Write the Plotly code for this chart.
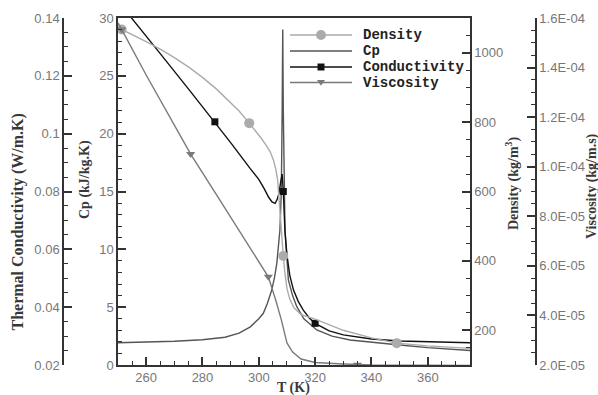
import plotly.graph_objects as go

# Supercritical fluid properties versus temperature
# Density (kg/m^3)
T_density = [250, 251.3, 255, 260, 265, 270, 275, 280, 285, 290, 293, 296.6, 299,
             301, 302.8, 304, 305.2, 306.0, 306.7, 307.2, 307.8, 308.2, 308.7, 309.2,
             310, 311, 312.5, 315, 320, 330, 340, 349, 360, 375]
density = [1072, 1067, 1052, 1032, 1010, 986, 959, 929, 895, 857, 832, 797, 773,
           752, 731, 715, 691, 665, 633, 575, 500, 450, 414, 370,
           320, 290, 265, 245, 232, 200, 178, 163, 155, 148]
density_marks = [251.3, 296.6, 308.7, 349]

# Specific heat Cp (kJ/kg.K)
T_cp = [250, 260, 270, 280, 288, 293, 297, 300, 301.6, 303, 304.6, 305.6, 306.4, 307.5,
        308.0, 308.3, 308.5, 308.7, 309.0, 309.3, 310.5, 312, 313.5, 316, 320.6, 326,
        332.4, 340, 350, 360, 375]
cp = [1.93, 1.98, 2.05, 2.18, 2.4, 2.75, 3.3, 4.0, 4.47, 5.3, 6.48, 7.6, 8.79, 11.67,
      15.0, 22.0, 29.0, 22.0, 15.0, 11.67, 7.35, 6.0, 5.04, 4.0, 3.03, 2.5,
      2.16, 1.95, 1.73, 1.5, 1.25]

# Thermal conductivity (W/m.K)
T_cond = [250, 254.9, 265, 275, 284.4, 290, 296.9, 300, 302, 303.5, 304.7, 305.8, 306.5,
          307.2, 307.8, 308.3, 308.7, 309.3, 310, 311, 312.3, 314, 315.8, 318, 320,
          325, 330, 340, 350, 360, 375]
conductivity = [0.1458, 0.14, 0.1277, 0.1155, 0.1041, 0.0969, 0.088, 0.0842, 0.0808,
                0.0780, 0.0764, 0.0759, 0.0772, 0.0795, 0.0835, 0.086, 0.080, 0.066,
                0.058, 0.051, 0.046, 0.042, 0.039, 0.0362, 0.0344,
                0.0318, 0.0304, 0.029, 0.0283, 0.028, 0.0277]
cond_marks = [284.4, 308.7, 320]

# Viscosity (kg/m.s)
T_visc = [250, 251.3, 260, 270, 275.8, 285, 295, 303.4, 306, 308, 310, 312, 315, 320,
          330, 335, 340, 375]
viscosity = [1.58e-4, 1.554e-4, 1.37e-4, 1.168e-4, 1.051e-4, 8.86e-5, 7.04e-5, 5.56e-5,
             4.62e-5, 3.82e-5, 2.89e-5, 2.52e-5, 2.24e-5, 2.10e-5,
             2.04e-5, 2.01e-5, 2.0e-5, 1.98e-5]
visc_marks = [251.3, 275.8, 303.4, 335]

# Axis ticks
t_ticks = [260, 280, 300, 320, 340, 360]
cp_ticks = [0, 5, 10, 15, 20, 25, 30]
cond_ticks = [0.02, 0.04, 0.06, 0.08, 0.1, 0.12, 0.14]
cond_labels = ["0.02", "0.04", "0.06", "0.08", "0.1", "0.12", "0.14"]
dens_ticks = [200, 400, 600, 800, 1000]
visc_ticks = [2e-5, 4e-5, 6e-5, 8e-5, 1e-4, 1.2e-4, 1.4e-4, 1.6e-4]
visc_labels = ["2.0E-05", "4.0E-05", "6.0E-05", "8.0E-05", "1.0E-04", "1.2E-04",
               "1.4E-04", "1.6E-04"]

W, H = 598, 395
X0, X1, Y0, Y1 = 118, 470, 18, 365
xdom = [X0 / W, X1 / W]
ydom = [1 - Y1 / H, 1 - Y0 / H]

AX = "#333333"
TICKFONT = dict(family="Liberation Sans, Arial, sans-serif", size=13, color="#777777")
TITLEFONT = dict(family="Liberation Serif, Times New Roman, serif", size=14,
                 color="#383838", weight="bold")
LEGFONT = dict(family="Liberation Mono, Courier New, monospace", size=14,
               color="#222222", weight="bold")

# name, line colour, marker symbol, marker size (px)
STYLES = {
    "Density": ("#ababab", "circle", 10),
    "Cp": ("#555555", None, 0),
    "Conductivity": ("#111111", "square", 7),
    "Viscosity": ("#7a7a7a", "triangle-down", 8),
}


def mark_idx(ts, marks):
    return [i for i, t in enumerate(ts) if t in marks]


def series(name, ts, vals, marks, yaxis):
    color, symbol, msize = STYLES[name]
    if symbol is None:
        return go.Scatter(x=ts, y=vals, name=name, yaxis=yaxis, mode="lines",
                          line=dict(color=color, width=1.4), showlegend=False)
    return go.Scatter(
        x=ts, y=vals, name=name, yaxis=yaxis, mode="lines+markers",
        line=dict(color=color, width=1.4),
        marker=dict(symbol=symbol, size=msize, color=color),
        selectedpoints=mark_idx(ts, marks),
        selected=dict(marker=dict(opacity=1)),
        unselected=dict(marker=dict(opacity=0)),
        showlegend=False,
    )


fig = go.Figure()
fig.add_trace(series("Density", T_density, density, density_marks, "y3"))
fig.add_trace(series("Cp", T_cp, cp, [], "y"))
fig.add_trace(series("Conductivity", T_cond, conductivity, cond_marks, "y2"))
fig.add_trace(series("Viscosity", T_visc, viscosity, visc_marks, "y4"))

common_y = dict(showgrid=False, zeroline=False, showline=True, linecolor=AX, linewidth=1.5,
                ticks="inside", ticklen=8, tickwidth=1.5, tickcolor=AX,
                tickfont=TICKFONT, automargin=False)


def minor(d):
    return dict(dtick=d, ticks="inside", ticklen=4, tickcolor=AX, tickwidth=1.2)


fig.update_layout(
    width=W, height=H,
    margin=dict(l=0, r=0, t=0, b=0),
    paper_bgcolor="white", plot_bgcolor="white",
    showlegend=False,
    xaxis=dict(domain=xdom, range=[250, 375], showgrid=False, zeroline=False,
               showline=True, linecolor=AX, linewidth=1.5, mirror=True,
               ticks="inside", ticklen=8, tickwidth=1.5, tickcolor=AX,
               tickvals=t_ticks, tickfont=TICKFONT, minor=minor(5), automargin=False),
    yaxis=dict(domain=ydom, range=[0, 30], side="left", anchor="x",
               tickvals=cp_ticks, minor=minor(1), **common_y),
    yaxis2=dict(domain=ydom, range=[0.02, 0.14], side="left", anchor="free",
                overlaying="y", position=63 / W,
                tickvals=cond_ticks, ticktext=cond_labels, minor=minor(0.005), **common_y),
    yaxis3=dict(domain=ydom, range=[100, 1100], side="right", anchor="x",
                overlaying="y", tickvals=dens_ticks, minor=minor(50), **common_y),
    yaxis4=dict(domain=ydom, range=[2e-5, 1.6e-4], side="right", anchor="free",
                overlaying="y", position=536 / W,
                tickvals=visc_ticks, ticktext=visc_labels, minor=minor(5e-6), **common_y),
)


def px(x):
    return x / W


def py(y):
    return 1 - y / H


# Legend key: line sample, symbol and label per series
LEG_X0, LEG_X1, LEG_TX = 290, 352, 361
for (name, (color, symbol, msize)), ly in zip(STYLES.items(), [35, 51, 67, 82.5]):
    fig.add_shape(type="line", xref="paper", yref="paper",
                  x0=px(LEG_X0), x1=px(LEG_X1), y0=py(ly), y1=py(ly),
                  line=dict(color=color, width=1.4))
    cx = (LEG_X0 + LEG_X1) / 2
    r = msize / 2
    if symbol == "circle":
        fig.add_shape(type="circle", xref="paper", yref="paper",
                      x0=px(cx - r), x1=px(cx + r), y0=py(ly - r), y1=py(ly + r),
                      fillcolor=color, line=dict(color=color, width=0))
    elif symbol == "square":
        fig.add_shape(type="rect", xref="paper", yref="paper",
                      x0=px(cx - r), x1=px(cx + r), y0=py(ly - r), y1=py(ly + r),
                      fillcolor=color, line=dict(color=color, width=0))
    elif symbol == "triangle-down":
        path = (f"M {px(cx - r)} {py(ly - r * 0.6)} L {px(cx + r)} {py(ly - r * 0.6)} "
                f"L {px(cx)} {py(ly + r * 0.8)} Z")
        fig.add_shape(type="path", xref="paper", yref="paper", path=path,
                      fillcolor=color, line=dict(color=color, width=0))
    fig.add_annotation(text=name, xref="paper", yref="paper", x=px(LEG_TX), y=py(ly),
                       xanchor="left", yanchor="middle", showarrow=False, font=LEGFONT)

# Axis titles
titles = [
    ("Thermal Conductivity (W/m.K)", 17.5, 222, -90, 16),
    ("Cp (kJ/kg.K)", 85, 180, -90, 14),
    ("Density (kg/m<sup>3</sup>)", 512, 183, -90, 14),
    ("Viscosity (kg/m.s)", 592, 186, -90, 14),
    ("T (K)", 293, 388, 0, 14),
]
for text, tx, ty, ang, fs in titles:
    f = dict(TITLEFONT)
    f["size"] = fs
    fig.add_annotation(text=text, xref="paper", yref="paper", x=px(tx), y=py(ty),
                       xanchor="center", yanchor="middle", textangle=ang,
                       showarrow=False, font=f)

fig.write_html("out.html")
